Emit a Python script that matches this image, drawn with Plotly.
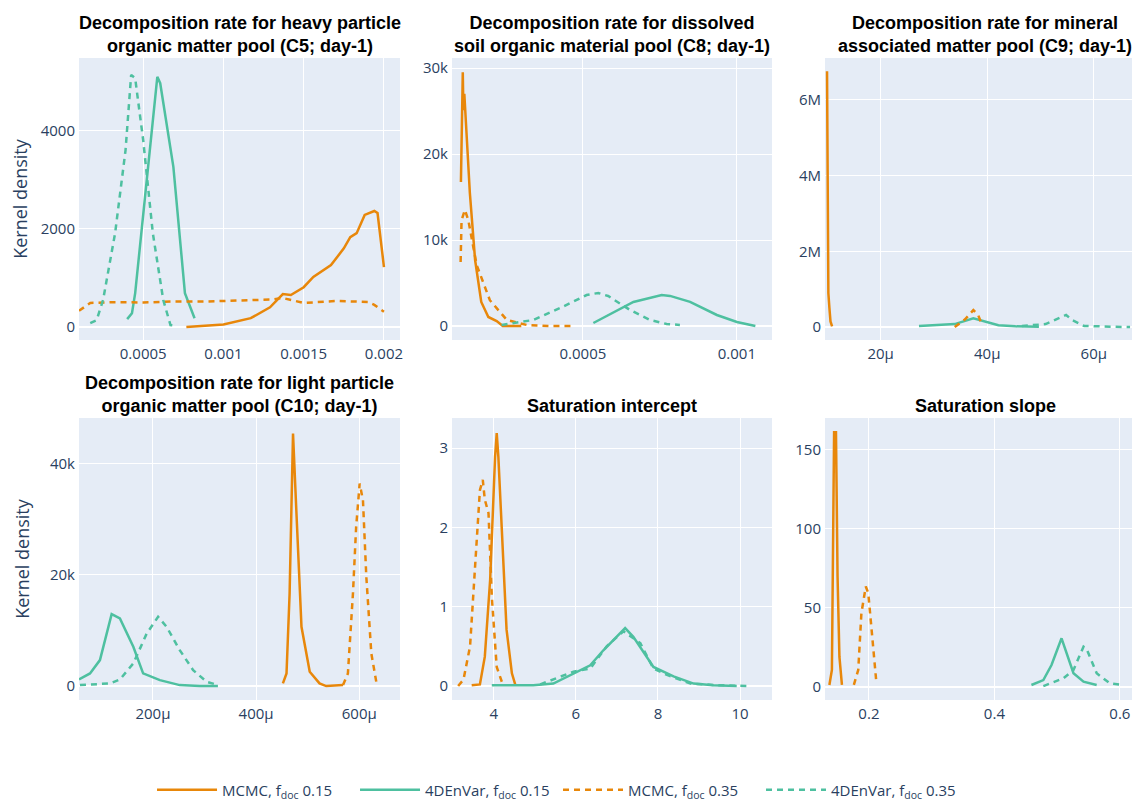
import plotly.graph_objects as go

ORANGE = "rgb(232,135,10)"
TEAL = "rgb(78,192,160)"

# ---------------- Panel 1: C5 ----------------
c5_mcmc15_x = [0.000769, 0.001, 0.00117, 0.00129, 0.00137, 0.00142, 0.0015, 0.00156, 0.00167, 0.00175, 0.00179, 0.00183, 0.00188, 0.00194, 0.00196, 0.0020]
c5_mcmc15_y = [0, 50, 180, 400, 670, 650, 810, 1020, 1260, 1600, 1830, 1910, 2280, 2360, 2320, 1220]
c5_var15_x = [0.0004, 0.00043, 0.00045, 0.000513, 0.000588, 0.000606, 0.000688, 0.00076, 0.00082]
c5_var15_y = [160, 280, 690, 2720, 5090, 4960, 3260, 690, 180]
c5_mcmc35_x = [0.0001, 0.00017, 0.0003, 0.0005, 0.0007, 0.0009, 0.0011, 0.0013, 0.00137, 0.0015, 0.0017, 0.0019, 0.00194, 0.002]
c5_mcmc35_y = [330, 490, 505, 500, 520, 520, 540, 560, 590, 490, 530, 510, 450, 310]
c5_var35_x = [0.00017, 0.00021, 0.00025, 0.000325, 0.00039, 0.000425, 0.00045, 0.0005, 0.00056, 0.000625, 0.00067, 0.00071]
c5_var35_y = [80, 140, 550, 1910, 3600, 5130, 5060, 3800, 1910, 550, 40, 20]

# ---------------- Panel 2: C8 ----------------
c8_mcmc15_x = [0.000104, 0.000110, 0.000112, 0.000115, 0.000133, 0.00015, 0.00017, 0.000193, 0.00022, 0.00024, 0.0003]
c8_mcmc15_y = [16750, 29500, 25100, 27000, 15460, 7670, 2800, 1050, 580, 0, 0]
c8_var15_x = [0.000534, 0.0006, 0.000664, 0.000756, 0.000783, 0.000848, 0.000935, 0.001, 0.00106]
c8_var15_y = [350, 1630, 2800, 3600, 3500, 2800, 1280, 470, 0]
c8_mcmc35_x = [0.000103, 0.000106, 0.000117, 0.000128, 0.000155, 0.000198, 0.000253, 0.000318, 0.000393, 0.000464]
c8_mcmc35_y = [7440, 12300, 13500, 12300, 7100, 3000, 700, 120, 0, 0]
c8_var35_x = [0.000236, 0.000339, 0.000426, 0.000512, 0.00055, 0.000582, 0.000653, 0.000718, 0.000772, 0.000815]
c8_var35_y = [120, 700, 2090, 3600, 3840, 3490, 1860, 700, 230, 120]

# ---------------- Panel 3: C9 ----------------
c9_mcmc15_x = [9.95e-6, 10.05e-6, 10.2e-6, 10.4e-6, 10.6e-6, 10.9e-6]
c9_mcmc15_y = [6.75e6, 3.9e6, 0.9e6, 0.5e6, 0.15e6, 0.02e6]
c9_var15_x = [27.2e-6, 33.9e-6, 37.4e-6, 39.6e-6, 42.1e-6, 45.3e-6, 49.7e-6]
c9_var15_y = [0.03e6, 0.08e6, 0.23e6, 0.14e6, 0.05e6, 0.02e6, 0.01e6]
c9_mcmc35_x = [33.9e-6, 35.8e-6, 37.4e-6, 38.3e-6, 38.95e-6]
c9_mcmc35_y = [0.0, 0.2e6, 0.45e6, 0.32e6, 0.08e6]
c9_var35_x = [46.5e-6, 50.96e-6, 54.8e-6, 56.0e-6, 58.2e-6, 66.8e-6]
c9_var35_y = [0.03e6, 0.08e6, 0.32e6, 0.18e6, 0.03e6, 0.0]

# ---------------- Panel 4: C10 ----------------
c10_mcmc15_x = [452e-6, 459e-6, 465e-6, 471.6e-6, 478e-6, 488e-6, 504e-6, 523e-6, 536e-6, 568.6e-6]
c10_mcmc15_y = [480, 2280, 16660, 45400, 31620, 10660, 2570, 480, 0, 180]
c10_var15_x = [56.7e-6, 78e-6, 97.3e-6, 116.7e-6, 120e-6, 136e-6, 162e-6, 181e-6, 213.5e-6, 252e-6, 291e-6, 326e-6]
c10_var15_y = [1200, 2280, 4670, 11860, 12940, 12160, 7060, 2280, 1080, 180, 0, 0]
c10_mcmc35_x = [568.6e-6, 578e-6, 587.8e-6, 594e-6, 600.8e-6, 607.2e-6, 613.7e-6, 623.4e-6, 633e-6, 636e-6]
c10_mcmc35_y = [180, 2280, 16660, 28630, 36420, 33420, 19640, 5870, 780, 180]
c10_var35_x = [58.6e-6, 116.7e-6, 136e-6, 162e-6, 188e-6, 210e-6, 226.5e-6, 252e-6, 278e-6, 304e-6, 326e-6]
c10_var35_y = [180, 480, 1200, 4080, 9460, 12460, 10660, 6470, 2870, 780, 180]

# ---------------- Panel 5: Saturation intercept ----------------
int_mcmc15_x = [3.46, 3.66, 3.78, 3.91, 4.03, 4.07, 4.11, 4.19, 4.31, 4.44, 4.52]
int_mcmc15_y = [0.01, 0.02, 0.37, 1.34, 2.89, 3.19, 2.89, 1.97, 0.71, 0.16, 0.02]
int_var15_x = [3.95, 4.96, 5.45, 5.94, 6.35, 6.67, 7.08, 7.2, 7.4, 7.89, 8.38, 8.87, 9.35, 9.92]
int_var15_y = [0.01, 0.01, 0.03, 0.16, 0.26, 0.45, 0.66, 0.73, 0.62, 0.24, 0.12, 0.03, 0.01, 0.0]
int_mcmc35_x = [3.13, 3.26, 3.42, 3.54, 3.66, 3.73, 3.78, 3.87, 3.95, 4.07, 4.23]
int_mcmc35_y = [0.0, 0.08, 0.5, 1.55, 2.47, 2.6, 2.35, 2.18, 1.13, 0.24, 0.0]
int_var35_x = [5.13, 5.94, 6.35, 6.75, 7.16, 7.57, 7.89, 8.22, 8.79, 9.44, 10.21]
int_var35_y = [0.02, 0.18, 0.22, 0.5, 0.69, 0.54, 0.22, 0.14, 0.03, 0.01, 0.0]

# ---------------- Panel 6: Saturation slope ----------------
slp_mcmc15_x = [0.137, 0.141, 0.1445, 0.1475, 0.150, 0.153, 0.157]
slp_mcmc15_y = [1.3, 10.8, 161, 161, 70, 19, 1.3]
slp_var15_x = [0.459, 0.478, 0.491, 0.507, 0.526, 0.542, 0.563]
slp_var15_y = [1.3, 4.4, 13.9, 30.8, 8.7, 3.4, 1.3]
slp_mcmc35_x = [0.176, 0.183, 0.188, 0.195, 0.199, 0.206, 0.212]
slp_mcmc35_y = [1.3, 10.8, 46.6, 63.5, 59.3, 25.5, 2.3]
slp_var35_x = [0.478, 0.51, 0.526, 0.542, 0.547, 0.563, 0.584, 0.605]
slp_var35_y = [0.6, 5.5, 10.8, 25.5, 24, 8.7, 2.3, 1.3]

series_names = ["MCMC, f<sub>doc</sub> 0.15", "4DEnVar, f<sub>doc</sub> 0.15",
                "MCMC, f<sub>doc</sub> 0.35", "4DEnVar, f<sub>doc</sub> 0.35"]
panel_titles = [
    "<b>Decomposition rate for heavy particle<br>organic matter pool (C5; day-1)</b>",
    "<b>Decomposition rate for dissolved<br>soil organic material pool (C8; day-1)</b>",
    "<b>Decomposition rate for mineral<br>associated matter pool (C9; day-1)</b>",
    "<b>Decomposition rate for light particle<br>organic matter pool (C10; day-1)</b>",
    "<b>Saturation intercept</b>",
    "<b>Saturation slope</b>",
]

panels = [
    [(c5_mcmc15_x, c5_mcmc15_y), (c5_var15_x, c5_var15_y), (c5_mcmc35_x, c5_mcmc35_y), (c5_var35_x, c5_var35_y)],
    [(c8_mcmc15_x, c8_mcmc15_y), (c8_var15_x, c8_var15_y), (c8_mcmc35_x, c8_mcmc35_y), (c8_var35_x, c8_var35_y)],
    [(c9_mcmc15_x, c9_mcmc15_y), (c9_var15_x, c9_var15_y), (c9_mcmc35_x, c9_mcmc35_y), (c9_var35_x, c9_var35_y)],
    [(c10_mcmc15_x, c10_mcmc15_y), (c10_var15_x, c10_var15_y), (c10_mcmc35_x, c10_mcmc35_y), (c10_var35_x, c10_var35_y)],
    [(int_mcmc15_x, int_mcmc15_y), (int_var15_x, int_var15_y), (int_mcmc35_x, int_mcmc35_y), (int_var35_x, int_var35_y)],
    [(slp_mcmc15_x, slp_mcmc15_y), (slp_var15_x, slp_var15_y), (slp_mcmc35_x, slp_mcmc35_y), (slp_var35_x, slp_var35_y)],
]

colors = [ORANGE, TEAL, ORANGE, TEAL]
dashes = ["solid", "solid", "6px,5px", "6px,5px"]

x_ranges = [[0.0001, 0.0021], [0.000075, 0.001114], [9.57e-6, 69.6e-6],
            [56.7e-6, 679e-6], [2.98, 10.78], [0.13, 0.64]]
y_ranges = [[-264, 5473], [-1628, 31163], [-0.34e6, 7.1e6],
            [-2500, 48200], [-0.177, 3.38], [-8.2, 170]]
x_dticks = [0.0005, 0.0005, 20e-6, 200e-6, 2, 0.2]
y_dticks = [2000, 10000, 2e6, 20000, 1, 50]

# page is drawn with an 8px body offset; positions below are in figure pixels
W, H = 1140, 800
ML, MR, MT, MB = 71, 3, 50, 108
pw, ph = W - ML - MR, H - MT - MB
col_px = [(71, 392), (444, 764), (817, 1137)]
row_px = [(50, 332), (410, 692)]
x_domains = [[(a - ML) / pw, (b - ML) / pw] for a, b in col_px]
y_domains = [[(MT + ph - b) / ph, (MT + ph - a) / ph] for a, b in row_px]

fig = go.Figure()
annotations = []
for i, pdata in enumerate(panels):
    r, c = divmod(i, 3)
    n = i + 1
    xa = "x" if n == 1 else f"x{n}"
    ya = "y" if n == 1 else f"y{n}"
    for j, (xs, ys) in enumerate(pdata):
        fig.add_trace(go.Scatter(
            x=xs, y=ys, mode="lines", name=series_names[j],
            line=dict(color=colors[j], width=2.5, dash=dashes[j]),
            legendgroup=str(j), showlegend=(i == 0),
            xaxis=xa, yaxis=ya))
    axis_common = dict(gridcolor="white", linecolor="white", ticks="",
                       zerolinecolor="white", zerolinewidth=2, automargin=False,
                       tickfont=dict(size=15, color="#2a3f5f"))
    fig.layout[f"xaxis{'' if n == 1 else n}"] = dict(
        domain=x_domains[c], anchor=ya, range=x_ranges[i], dtick=x_dticks[i],
        **axis_common)
    ydict = dict(domain=y_domains[r], anchor=xa, range=y_ranges[i], dtick=y_dticks[i],
                 **axis_common)
    if c == 0:
        ydict["title"] = dict(text="Kernel density", font=dict(size=18, color="#2a3f5f"))
    fig.layout[f"yaxis{'' if n == 1 else n}"] = ydict
    annotations.append(dict(
        text=panel_titles[i], xref="paper", yref="paper",
        x=sum(x_domains[c]) / 2, y=y_domains[r][1], xanchor="center", yanchor="bottom",
        showarrow=False, font=dict(family="Liberation Sans, Arial", size=18, color="black")))

fig.update_layout(
    width=W, height=H,
    margin=dict(l=ML, r=MR, t=MT, b=MB, autoexpand=False),
    template="plotly",
    plot_bgcolor="#E5ECF6",
    paper_bgcolor="white",
    font=dict(family="Open Sans", size=15, color="#2a3f5f"),
    annotations=annotations,
    legend=dict(orientation="h", x=0.0685, xanchor="left", y=-0.1402, yanchor="middle",
                itemwidth=60, entrywidth=128, font=dict(size=15)),
)

fig.write_html("out.html")
